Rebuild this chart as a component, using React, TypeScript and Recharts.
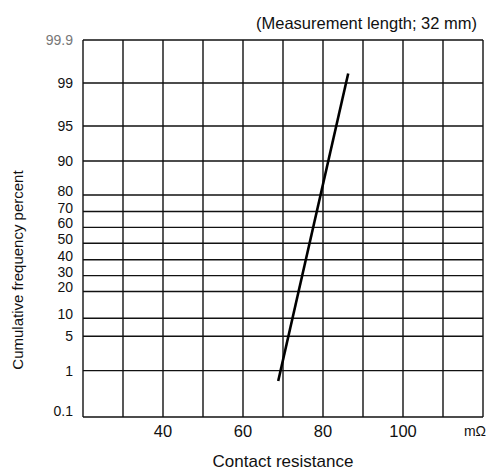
import React from 'react'
import { LineChart, Line, XAxis, YAxis, ReferenceLine } from 'recharts'

// probability paper: cumulative % ticks and where each one sits on the paper (0-100)
const PCT_TICKS = [0.1, 1, 5, 10, 20, 30, 40, 50, 60, 70, 80, 90, 95, 99, 99.9]
const PAPER_POS = [0, 12.3, 21.4, 26.2, 33.3, 37.5, 41.7, 46.1, 50.3, 54.5, 58.9, 67.9, 77.2, 88.6, 100]

const X_TICKS = [40, 60, 80, 100]
const X_GRID = [20, 30, 40, 50, 60, 70, 80, 90, 100, 110, 120]

// fitted distribution line, ends
const RESISTANCE = [68.8, 86.3]
const CUM_PERCENT = [0.8, 99.2]

const FONT = "'Liberation Sans', Arial, sans-serif"
const INK = '#111'

function toPaper(pct: number): number {
  for (let i = 1; i < PCT_TICKS.length; i++) {
    if (pct <= PCT_TICKS[i]) {
      const t = (pct - PCT_TICKS[i - 1]) / (PCT_TICKS[i] - PCT_TICKS[i - 1])
      return PAPER_POS[i - 1] + t * (PAPER_POS[i] - PAPER_POS[i - 1])
    }
  }
  return 100
}

const data = RESISTANCE.map((r, i) => ({ r, p: toPaper(CUM_PERCENT[i]) }))

// labels in the crowded middle sit just above their line
const LIFTED = [10, 20, 30, 40, 50, 60, 70, 80]

// eslint-disable-next-line @typescript-eslint/no-explicit-any
function YTick({ x, y, payload }: any) {
  let i = 0
  PAPER_POS.forEach((v, k) => {
    if (Math.abs(v - payload.value) < Math.abs(PAPER_POS[i] - payload.value)) i = k
  })
  const pct = PCT_TICKS[i]
  const lift = pct === 0.1 ? 6 : LIFTED.includes(pct) ? 4 : 0
  return (
    <text
      x={x}
      y={y - lift}
      dy="0.36em"
      textAnchor="end"
      fontSize={14}
      fontFamily={FONT}
      fill={pct === 99.9 ? '#777' : INK}
    >
      {pct}
    </text>
  )
}

export default function App() {
  return (
    <div style={{ position: 'absolute', left: 0, top: 0, width: 488, height: 471, background: '#fff' }}>
      <LineChart width={488} height={471} data={data} margin={{ top: 40, right: 5, bottom: 0, left: 0 }}>
        <XAxis
          dataKey="r"
          type="number"
          domain={[20, 120]}
          ticks={X_TICKS}
          interval={0}
          axisLine={false}
          tickLine={false}
          height={54}
          tick={{ fontSize: 16.5, fill: INK, fontFamily: FONT }}
          label={{ value: 'Contact resistance', position: 'insideBottom', offset: 4, fontSize: 17, fill: INK, fontFamily: FONT }}
        />
        <YAxis
          type="number"
          domain={[0, 100]}
          ticks={PAPER_POS}
          interval={0}
          axisLine={false}
          tickLine={false}
          tickMargin={4}
          width={83}
          tick={<YTick />}
        />
        {X_GRID.map(v => (
          <ReferenceLine key={'x' + v} x={v} stroke={INK} strokeWidth={1.4} />
        ))}
        {PAPER_POS.map(v => (
          <ReferenceLine key={'y' + v} y={v} stroke={INK} strokeWidth={1.4} />
        ))}
        <Line
          type="linear"
          dataKey="p"
          stroke="#000"
          strokeWidth={2.6}
          dot={false}
          isAnimationActive={false}
        />
      </LineChart>
      <svg
        width={488}
        height={471}
        style={{ position: 'absolute', left: 0, top: 0, pointerEvents: 'none' }}
        fontFamily={FONT}
      >
        <text x={477} y={29} textAnchor="end" fontSize={16.5} fill={INK}>
          (Measurement length; 32 mm)
        </text>
        <text x={475} y={436} textAnchor="middle" fontSize={14} fill={INK}>
          mΩ
        </text>
        <text transform="translate(23 270) rotate(-90)" textAnchor="middle" fontSize={15} fill={INK}>
          Cumulative frequency percent
        </text>
      </svg>
    </div>
  )
}
